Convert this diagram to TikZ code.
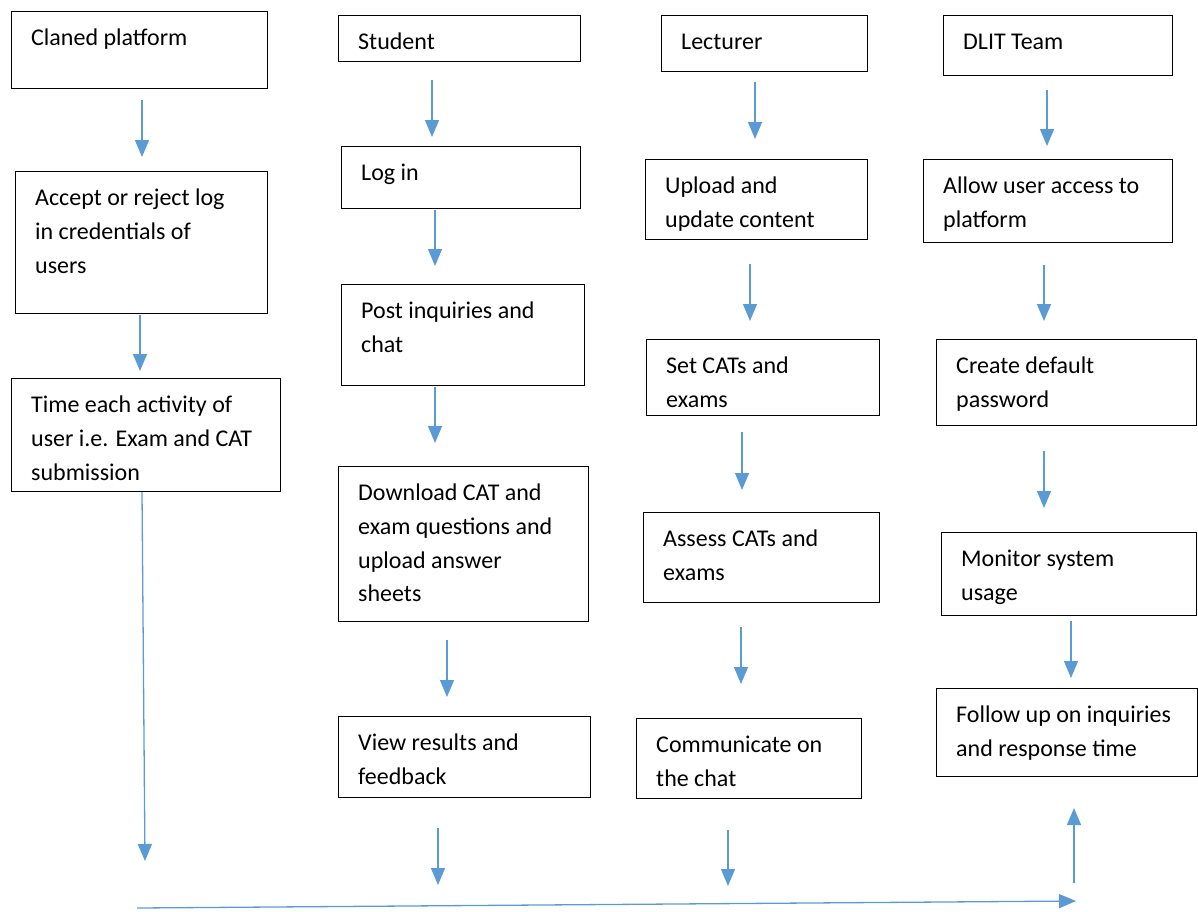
\documentclass[tikz,border=0pt]{standalone}
\usepackage{fontspec}
\setmainfont{Carlito}
\usetikzlibrary{arrows.meta}
\definecolor{arrblue}{HTML}{5B9BD5}
\newcommand\mybox[6]{%
  \node[box, minimum width={#4-#2}, minimum height={#5-#3}] (#1) at (#2,#3) {};
  \node[txt] (#1t) at ([shift={(20,34.5)}]#1.north west) {\parbox[t]{300pt}{\raggedright #6}};
}
\begin{document}
\begin{tikzpicture}[x=1pt,y=-1pt,
  box/.style={draw=black, line width=1pt, anchor=north west, inner sep=0pt, outer sep=0pt},
  txt/.style={anchor=base west, inner sep=0pt, font=\fontsize{24}{33.8}\selectfont},
  arr/.style={draw=arrblue, line width=1.3pt, -{Triangle[length=17pt,width=14pt]}}]
\useasboundingbox (0,0) rectangle (1198,911);
% column 1
\mybox{c1}{11}{11}{267}{88}{Claned platform}
\mybox{c2}{15}{171}{267}{313}{Accept or reject log\\in credentials of\\users}
\mybox{c3}{11}{378}{280}{491}{Time each activity of\\user i.e. Exam and CAT\\submission}
% column 2
\mybox{s1}{338}{15}{580}{61}{Student}
\mybox{s2}{341}{146}{580}{208}{Log in}
\mybox{s3}{341}{284}{584}{385}{Post inquiries and\\chat}
\mybox{s4}{338}{466}{588}{621}{Download CAT and\\exam questions and\\upload answer\\sheets}
\mybox{s5}{338}{716}{590}{797}{View results and\\feedback}
% column 3
\mybox{l1}{661}{15}{867}{71}{Lecturer}
\mybox{l2}{645}{159}{867}{239}{Upload and\\update content}
\mybox{l3}{646}{339}{879}{415}{Set CATs and\\exams}
\mybox{l4}{643}{512}{879}{602}{Assess CATs and\\exams}
\mybox{l5}{636}{718}{861}{798}{Communicate on\\the chat}
% column 4
\mybox{d1}{943}{15}{1172}{75}{DLIT Team}
\mybox{d2}{923}{159}{1172}{242}{Allow user access to\\platform}
\mybox{d3}{936}{339}{1196}{425}{Create default\\password}
\mybox{d4}{941}{532}{1196}{615}{Monitor system\\usage}
\mybox{d5}{936}{688}{1197}{776}{Follow up on inquiries\\and response time}
% arrow coordinates
\coordinate (a1s) at (142,100); \coordinate (a1e) at (142,157);
\coordinate (a2s) at (140,315); \coordinate (a2e) at (140,371);
\coordinate (a3s) at (142,492); \coordinate (a3e) at (145,861);
\coordinate (b1s) at (432,80);  \coordinate (b1e) at (432,137);
\coordinate (b2s) at (435,210); \coordinate (b2e) at (435,266);
\coordinate (b3s) at (435,387); \coordinate (b3e) at (435,443);
\coordinate (b4s) at (447,640); \coordinate (b4e) at (447,697);
\coordinate (b5s) at (438,828); \coordinate (b5e) at (438,885);
\coordinate (e1s) at (755,82);  \coordinate (e1e) at (755,139);
\coordinate (e2s) at (750,264); \coordinate (e2e) at (750,321);
\coordinate (e3s) at (742,432); \coordinate (e3e) at (742,490);
\coordinate (e4s) at (741,627); \coordinate (e4e) at (741,684);
\coordinate (e5s) at (728,830); \coordinate (e5e) at (728,886);
\coordinate (f1s) at (1047,90);  \coordinate (f1e) at (1047,146);
\coordinate (f2s) at (1044,265); \coordinate (f2e) at (1044,321);
\coordinate (f3s) at (1044,451); \coordinate (f3e) at (1044,508);
\coordinate (f4s) at (1071,621); \coordinate (f4e) at (1071,678);
\coordinate (hs) at (137,908); \coordinate (he) at (1076,901);
\coordinate (us) at (1074,883); \coordinate (ue) at (1074,808);
\foreach \p in {a1,a2,a3,b1,b2,b3,b4,b5,e1,e2,e3,e4,e5,f1,f2,f3,f4,h,u}
  \draw[arr] (\p s) -- (\p e);
\end{tikzpicture}
\end{document}
